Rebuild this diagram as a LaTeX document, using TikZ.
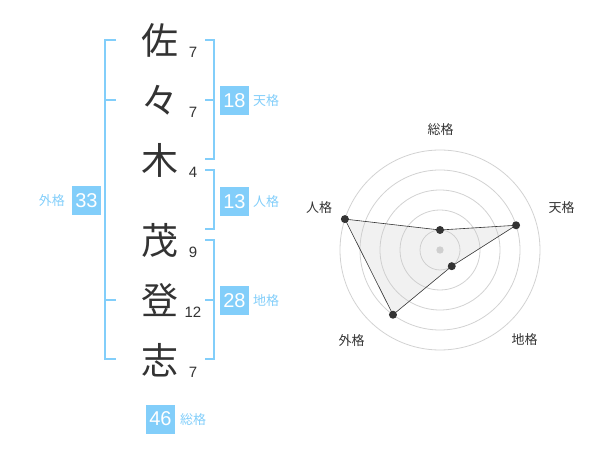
\documentclass[tikz,border=0pt]{standalone}
\usepackage{fontspec}
\setmainfont{Liberation Sans}
\newfontfamily\jpfont{Noto Sans CJK JP}
\usepackage{xcolor}
\usetikzlibrary{calc}

\definecolor{kakublue}{RGB}{130,206,250}
\definecolor{inkgray}{RGB}{51,51,51}
\definecolor{ringgray}{RGB}{210,210,210}
\definecolor{areagray}{RGB}{200,200,200}

\begin{document}
\begin{tikzpicture}[x=1pt, y=-1pt,
        kanji/.style={text=inkgray, inner sep=0pt, text height=32pt, text depth=4pt, font=\jpfont\fontsize{37}{37}\selectfont},
        strokes/.style={text=inkgray, inner sep=0pt, font=\fontsize{15}{15}\selectfont},
        bracket/.style={draw=kakublue, line width=2pt},
        badge/.style={fill=kakublue, text=white, inner sep=0pt, minimum size=29pt, font=\fontsize{20}{20}\selectfont},
        kakulabel/.style={text=kakublue, inner sep=0pt, font=\jpfont\fontsize{13}{13}\selectfont},
        ring/.style={draw=ringgray, line width=0.8pt},
        axislabel/.style={text=inkgray, inner sep=0pt, font=\jpfont\fontsize{13}{13}\selectfont}]

        \useasboundingbox (0,0) rectangle (600,470);

        %% Characters
        \node (sa) [kanji] at (160,41) {佐};
        \node (no) [kanji] at (160,101) {々};
        \node (ki) [kanji] at (160,161) {木};
        \node (shige) [kanji] at (160,241) {茂};
        \node (to) [kanji] at (160,301) {登};
        \node (shi) [kanji] at (160,361) {志};

        %% Stroke counts
        \node (saN) [strokes] at (193,52.5) {7};
        \node (noN) [strokes] at (193,112.5) {7};
        \node (kiN) [strokes] at (193,172.5) {4};
        \node (shigeN) [strokes] at (193,252.5) {9};
        \node (toN) [strokes] at (193,312.5) {12};
        \node (shiN) [strokes] at (193,372.5) {7};

        %% Brackets
        \draw [bracket] (116,40) -- (105,40) -- (105,359) -- (116,359);
        \draw [bracket] (105,100) -- (116,100);
        \draw [bracket] (105,300) -- (116,300);
        \draw [bracket] (205,40) -- (214,40) -- (214,159) -- (205,159);
        \draw [bracket] (214,100) -- (205,100);
        \draw [bracket] (205,170) -- (214,170) -- (214,229) -- (205,229);
        \draw [bracket] (205,240) -- (214,240) -- (214,359) -- (205,359);
        \draw [bracket] (214,300) -- (205,300);

        %% Results
        \node (ten) [badge] at (234.5,100.5) {18};
        \node (tenL) [kakulabel, anchor=west] at (253,100.5) {天格};
        \node (jin) [badge] at (234.5,201.5) {13};
        \node (jinL) [kakulabel, anchor=west] at (253,201.5) {人格};
        \node (chi) [badge] at (234.5,300.5) {28};
        \node (chiL) [kakulabel, anchor=west] at (253,300.5) {地格};
        \node (gai) [badge] at (86.5,200.5) {33};
        \node (gaiL) [kakulabel, anchor=east] at (65,200.5) {外格};
        \node (so) [badge] at (160.5,419) {46};
        \node (soL) [kakulabel, anchor=west] at (180,419.5) {総格};

        %% Radar
        \coordinate (c) at (440,250);
        \draw [ring] (c) circle [radius=20pt];
        \draw [ring] (c) circle [radius=40pt];
        \draw [ring] (c) circle [radius=60pt];
        \draw [ring] (c) circle [radius=80pt];
        \draw [ring] (c) circle [radius=100pt];
        \fill [ringgray] (c) circle [radius=3.7pt];

        \coordinate (soV) at ($(c)+(-90:20)$);
        \coordinate (tenV) at ($(c)+(-18:80)$);
        \coordinate (chiV) at ($(c)+(54:20)$);
        \coordinate (gaiV) at ($(c)+(126:80)$);
        \coordinate (jinV) at ($(c)+(198:100)$);
        \fill [areagray, fill opacity=0.25] (soV) -- (tenV) -- (chiV) -- (gaiV) -- (jinV) -- cycle;
        \draw [inkgray, line width=0.6pt] (soV) -- (tenV) -- (chiV) -- (gaiV) -- (jinV) -- cycle;
        \fill [inkgray] (soV) circle [radius=4pt];
        \fill [inkgray] (tenV) circle [radius=4pt];
        \fill [inkgray] (chiV) circle [radius=4pt];
        \fill [inkgray] (gaiV) circle [radius=4pt];
        \fill [inkgray] (jinV) circle [radius=4pt];

        %% Axis names
        \node (soA) [axislabel] at (440.5,130) {総格};
        \node (tenA) [axislabel] at (561.5,208) {天格};
        \node (chiA) [axislabel] at (524.5,340) {地格};
        \node (gaiA) [axislabel] at (351.5,340.5) {外格};
        \node (jinA) [axislabel] at (319,208) {人格};

    \end{tikzpicture}
\end{document}
